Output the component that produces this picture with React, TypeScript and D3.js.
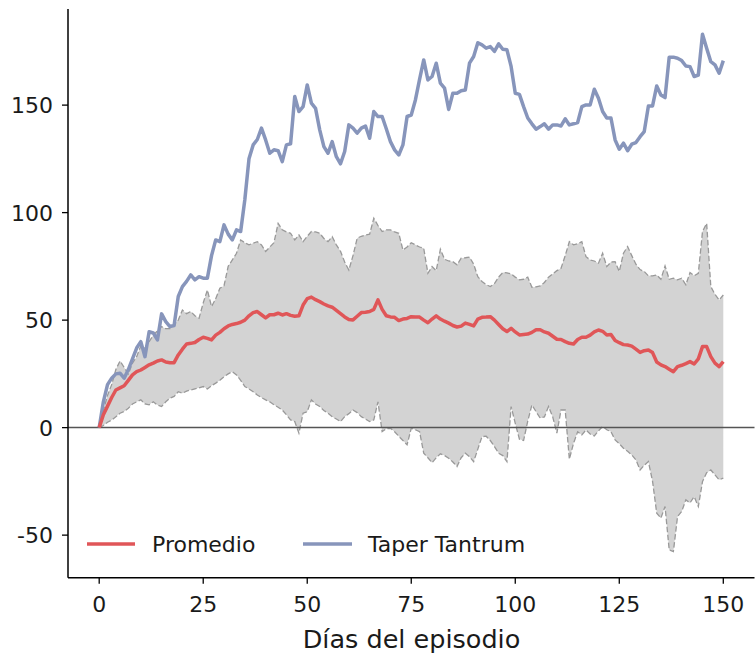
import React from "react";
import * as d3 from "d3";

// Day index 0..150 of the episode
const days: number[] = Array.from({ length: 151 }, (_, i) => i);

// Average path across episodes
const promedio: number[] = [
  0, 6, 10, 14, 17.5, 18.5, 19.5, 22, 24.5, 26,
  26.8, 28, 29.2, 30, 31, 31.5, 30.5, 30.2, 30.2, 33.8,
  36.5, 38.9, 39.2, 39.6, 41, 42, 41.5, 40.8, 43, 44.3,
  46, 47.3, 48, 48.4, 49, 50, 52, 53.5, 54, 52.5,
  51, 52.5, 52.5, 53.2, 52.4, 53, 52.2, 51.8, 52, 57,
  60, 60.7, 59.5, 58.6, 57.5, 56.6, 56, 54.5, 53, 51.5,
  50.3, 50.1, 51.8, 53.5, 53.7, 54, 55, 59.4, 55, 52,
  51.5, 51.3, 49.8, 50.5, 50.8, 51.6, 51.5, 51.4, 50, 48.8,
  50.5, 52, 50.5, 49.5, 48.6, 47.5, 46.8, 47.2, 48.6, 48,
  47.3, 50.5, 51.3, 51.4, 51.6, 50, 48, 46, 44.7, 46.2,
  44.5, 43.1, 43.3, 43.5, 44.3, 45.5, 45.5, 44.5, 43.9, 42.5,
  41.1, 41, 40, 39.2, 38.9, 41, 42, 42, 43, 44.5,
  45.4, 44.8, 43.1, 43.3, 40.5, 39.5, 38.6, 38.4, 37.9, 36.5,
  35, 35.8, 36.1, 34.9, 30.5, 29.2, 28.4, 27.2, 26, 28.4,
  29, 29.8, 30.7, 29.6, 32, 37.7, 37.7, 33, 30, 28.4,
  30.7,
];

// Taper Tantrum episode path
const taperTantrum: number[] = [
  0, 12, 20, 23, 25, 25.3, 23, 27, 32, 37,
  40, 33, 44.6, 44, 40.8, 52.9, 49.3, 47, 47.5, 61,
  65.6, 68, 71, 68.7, 70.2, 69.5, 69.5, 80, 87.3, 86.5,
  94.3, 90, 87.3, 92, 91.2, 106, 125, 131.5, 134, 139.3,
  133.8, 127.6, 129.2, 128.8, 123.7, 131.5, 132, 154, 147, 149.3,
  159.4, 150.9, 148.5, 138.5, 130.7, 127.6, 133, 126, 122.7, 128.4,
  140.8, 139.3, 137, 139.3, 140.3, 134.6, 147, 144.7, 144.7, 139,
  133, 129.2, 126.8, 131.5, 144.7, 145.4, 152.4, 162, 171, 161.7,
  163.3, 169.5, 160.2, 157.9, 148, 155.5, 155.5, 156.7, 157, 169.5,
  172.6, 179, 178, 176.5, 177.2, 175, 178.5, 176, 175.7, 168,
  155.5, 155, 149.3, 144, 141.3, 138.8, 140, 141.3, 138.8, 140.8,
  140.8, 140.3, 143.6, 140.8, 141.3, 141.9, 149.3, 150.1, 150.1, 157.4,
  153.2, 147, 144, 144, 133.8, 129.5, 132.3, 128.8, 131.8, 132.6,
  135.3, 137.7, 149.6, 149.6, 158.9, 154.7, 153.5, 172.3, 172.3, 171.8,
  170.7, 168.2, 167.9, 163.3, 164, 183, 176.5, 170.2, 168.7, 164.8,
  170.7,
];

// Upper edge of the shaded range
const bandUpper: number[] = [
  0, 8, 15, 20, 27, 31, 28, 25, 30, 33,
  38, 37, 40, 43, 45, 47, 46, 46, 48, 50,
  54.7, 53, 54, 52, 50.9, 58, 64, 56.3, 60, 64.8,
  66, 75, 78, 81.1, 87.3, 86, 85, 85.8, 86.5, 85,
  81.9, 84, 86, 95, 92, 91, 90.4, 87.3, 89.6, 86.5,
  89, 91.2, 91, 90.4, 88, 86.5, 88.8, 85, 82, 77,
  73.3, 80, 88.1, 89, 89.6, 90, 97.4, 94, 91.2, 92,
  92, 91, 90.4, 82.6, 84, 86, 85, 84, 83.4, 71.8,
  74.9, 73, 83, 78.3, 77.5, 77.2, 75.7, 78.8, 79, 79.3,
  76, 70.2, 68, 66.5, 65.6, 67, 70, 72.1, 72, 71.5,
  70, 68.7, 69, 70, 65.3, 65.5, 65.9, 67.5, 70, 71.5,
  73, 74.1, 80, 86.5, 85, 85.5, 86.5, 79.5, 78, 77.5,
  76.5, 81.1, 74.9, 77, 77.2, 72.6, 81.1, 84.2, 80, 76,
  73.5, 72.6, 70.6, 70.6, 71, 69, 75.2, 69, 69.5, 68.7,
  69.5, 66.4, 72.1, 70.6, 71.8, 91.2, 95, 65.6, 62, 59.4,
  61.7,
];

// Lower edge of the shaded range
const bandLower: number[] = [
  0, 1, 2.5, 3.5, 5, 6.7, 7.5, 9, 11, 12,
  12.9, 11, 10.6, 12, 10.5, 9.8, 12, 13.7, 14.5, 16.7,
  16, 17, 17.5, 18, 18.5, 19.1, 18, 19.5, 20.7, 22,
  23.7, 25, 26, 24.5, 22, 19.1, 18, 16.7, 15.2, 14,
  12.9, 12, 10.6, 9.5, 8.2, 6, 3.6, 2.8, -2.6, 6.7,
  7.4, 12.9, 11, 9.8, 8, 6.7, 5.1, 4, 2.8, 5.1,
  6.5, 8.2, 7, 5.1, 4, 2.8, 3.6, 12, -1.9, -0.5,
  -0.3, -1.9, -4, -6, -8, -0.3, -1, -1.9, -11.9, -14,
  -16.3, -14, -12.2, -13, -14.2, -16, -18.1, -14, -11.9, -13.5,
  -15.8, -10, -4.2, -4, -6, -8.8, -11.9, -13, -15.8, 9.8,
  2, -5.4, -6, 3, 10.6, 7.4, 4.4, 5, 9.8, 5,
  -2.6, 8.2, 8.2, -14.7, -7.3, -1.9, -3.4, -1.1, -3, -3.9,
  -1.5, 0.5, -1, -1.9, -5.7, -7.5, -9.6, -11, -12.7, -15,
  -19.7, -17.5, -15.8, -25, -39.8, -42.1, -36.7, -56.9, -57.7, -41.4,
  -39, -33.6, -35, -32.1, -36.7, -25.1, -21, -19.7, -22, -24.3,
  -23.5,
];

const xTicks: number[] = [0, 25, 50, 75, 100, 125, 150];
const yTicks: number[] = [-50, 0, 50, 100, 150];

const seriesNames: string[] = ["Promedio", "Taper Tantrum"];
const xLabel = "Días del episodio";

const WIDTH = 755;
const HEIGHT = 655;
const FONT = "'DejaVu Sans', 'Open Sans', sans-serif";
const RED = "#e05658";
const BLUE = "#8795bb";
const TEXT = "#1a1a1a";

export default function App() {
  const x = d3.scaleLinear().domain([-7.5, 157.5]).range([68, 754.5]);
  const y = d3.scaleLinear().domain([-69.8, 194.7]).range([577.7, 9]);

  const lineOf = (vals: number[]) =>
    d3
      .line<number>()
      .x((_, i) => x(days[i]))
      .y((v) => y(v))(vals) || "";

  const band =
    d3
      .area<number>()
      .x((_, i) => x(days[i]))
      .y0((_, i) => y(bandLower[i]))
      .y1((_, i) => y(bandUpper[i]))(days) || "";

  const [x0, x1] = x.range();
  const [yBottom, yTop] = y.range();

  return (
    <svg
      width={WIDTH}
      height={HEIGHT}
      style={{ position: "absolute", left: 0, top: 0, background: "#fff" }}
      fontFamily={FONT}
    >
      {/* shaded range */}
      <path d={band} fill="#d3d3d3" stroke="none" />
      <path
        d={lineOf(bandUpper)}
        fill="none"
        stroke="#999"
        strokeWidth={1.3}
        strokeDasharray="5.5,2.5"
      />
      <path
        d={lineOf(bandLower)}
        fill="none"
        stroke="#999"
        strokeWidth={1.3}
        strokeDasharray="5.5,2.5"
      />

      {/* zero reference line */}
      <line x1={x0} x2={x1} y1={y(0)} y2={y(0)} stroke="#555" strokeWidth={1.5} />

      {/* series */}
      <path d={lineOf(taperTantrum)} fill="none" stroke={BLUE} strokeWidth={3.5} strokeLinejoin="round" />
      <path d={lineOf(promedio)} fill="none" stroke={RED} strokeWidth={3.5} strokeLinejoin="round" />

      {/* axes */}
      <line x1={x0} x2={x0} y1={yBottom} y2={yTop} stroke="#000" strokeWidth={1.5} />
      <line x1={x0} x2={x1} y1={yBottom} y2={yBottom} stroke="#000" strokeWidth={1.5} />

      {yTicks.map((t) => (
        <g key={`y${t}`}>
          <line x1={x0 - 6} x2={x0} y1={y(t)} y2={y(t)} stroke="#000" strokeWidth={1.3} />
          <text
            x={x0 - 15}
            y={y(t)}
            dy="0.36em"
            textAnchor="end"
            fontSize={22}
            fill={TEXT}
          >
            {t < 0 ? `-${Math.abs(t)}` : t}
          </text>
        </g>
      ))}

      {xTicks.map((t) => (
        <g key={`x${t}`}>
          <line x1={x(t)} x2={x(t)} y1={yBottom} y2={yBottom + 6} stroke="#000" strokeWidth={1.3} />
          <text x={x(t)} y={612} textAnchor="middle" fontSize={22} fill={TEXT}>
            {t}
          </text>
        </g>
      ))}

      <text x={411.5} y={648} textAnchor="middle" fontSize={25.5} fill={TEXT}>
        {xLabel}
      </text>

      {/* legend */}
      <g>
        <line x1={87} x2={135} y1={544} y2={544} stroke={RED} strokeWidth={3.5} />
        <text x={152} y={552} fontSize={22} fill={TEXT}>
          {seriesNames[0]}
        </text>
        <line x1={303} x2={352} y1={544} y2={544} stroke={BLUE} strokeWidth={3.5} />
        <text x={368} y={552} fontSize={22} fill={TEXT}>
          {seriesNames[1]}
        </text>
      </g>
    </svg>
  );
}
